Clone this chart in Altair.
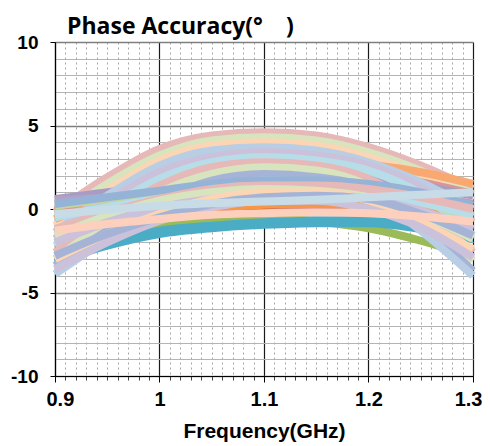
import altair as alt
import pandas as pd

FREQ = [0.9, 0.95, 1.0, 1.05, 1.1, 1.15, 1.2, 1.25, 1.3]

# series drawn in this order (later ones on top)
SERIES = [
    ("s01", "#93CDDD", [-2.0, -1.4, -0.9, -0.55, -0.4, -0.35, -0.45, -0.8, -1.3]),
    ("s02", "#9BBB59", [-2.2, -1.5, -0.9, -0.6, -0.5, -0.75, -1.15, -1.9, -2.9]),
    ("s03", "#4BACC6", [-2.7, -2.0, -1.3, -1.0, -0.8, -0.7, -0.7, -1.0, -1.5]),
    ("s04", "#4BACC6", [-3.2, -2.2, -1.5, -1.15, -0.95, -0.85, -0.85, -1.2, -1.8]),
    ("s05", "#C0504D", [-0.3, -0.2, -0.05, 0.1, 0.15, 0.15, 0.05, -0.2, -0.6]),
    ("s06", "#F79646", [-0.6, -0.35, -0.1, 0.1, 0.25, 0.3, 0.2, -0.05, -0.4]),
    ("s07", "#E6B9B8", [-0.2, 1.9, 3.6, 4.4, 4.6, 4.4, 3.7, 2.6, 1.2]),
    ("s08", "#D7E4BD", [-0.6, 1.5, 3.2, 4.1, 4.3, 4.1, 3.4, 2.3, 0.9]),
    ("s09", "#FCD5B5", [-1.0, 1.1, 2.9, 3.8, 4.0, 3.8, 3.1, 2.0, 0.5]),
    ("s10", "#F9A870", [-0.6, 0.6, 1.7, 2.3, 2.6, 2.6, 2.6, 2.2, 1.5]),
    ("s11", "#D99694", [-0.1, 0.9, 1.8, 2.3, 2.5, 2.5, 2.2, 1.6, 0.9]),
    ("s12", "#A99CC4", [0.6, 1.0, 1.5, 1.9, 2.1, 2.1, 1.9, 1.4, 0.8]),
    ("s13", "#B3A2C7", [0.5, 0.7, 1.0, 1.3, 1.4, 1.4, 1.3, 0.9, 0.3]),
    ("s14", "#B9CDE5", [-1.4, 0.8, 2.6, 3.5, 3.7, 3.5, 2.8, 1.6, 0.0]),
    ("s15", "#CCC1DA", [-1.8, 0.4, 2.2, 3.1, 3.4, 3.2, 2.6, 1.3, -0.8]),
    ("s16", "#B7DEE8", [-2.2, 0.0, 1.8, 2.8, 3.1, 2.9, 2.3, 0.9, -1.6]),
    ("s17", "#E6B9B8", [-2.6, -0.4, 1.4, 2.5, 2.8, 2.6, 1.8, 0.0, -2.6]),
    ("s18", "#D7E4BD", [-3.0, -0.8, 1.0, 2.1, 2.5, 2.3, 1.4, -0.5, -3.1]),
    ("s19", "#A5B4D6", [-3.4, -1.3, 0.5, 1.7, 2.1, 1.9, 1.2, -0.9, -3.7]),
    ("s20", "#B9CDE5", [-3.9, -1.8, 0.0, 1.2, 1.7, 1.6, 0.9, -1.3, -4.0]),
    ("s21", "#C3D69B", [0.2, 0.6, 1.0, 1.3, 1.4, 1.3, 1.0, 0.4, -0.5]),
    ("s22", "#95B3D7", [0.3, 0.7, 1.1, 1.5, 1.7, 1.7, 1.5, 1.0, 0.2]),
    ("s23", "#B7DEE8", [-0.5, 0.1, 0.6, 1.0, 1.1, 1.1, 0.9, 0.4, -0.4]),
    ("s24", "#E6B9B8", [-1.2, -0.2, 0.6, 1.2, 1.4, 1.4, 1.2, 0.7, 0.0]),
    ("s25", "#D7E4BD", [-1.6, -0.4, 0.5, 1.0, 1.2, 1.1, 0.7, -0.3, -1.8]),
    ("s26", "#CCC1DA", [-2.0, -0.8, 0.1, 0.6, 0.9, 0.9, 0.6, -0.1, -1.2]),
    ("s27", "#FCD5B5", [-3.0, -1.5, -0.3, 0.6, 1.0, 1.0, 0.5, -0.8, -2.4]),
    ("s28", "#CCC1DA", [-3.6, -2.0, -0.7, 0.1, 0.5, 0.5, 0.0, -1.1, -2.9]),
    ("s29", "#A5B4D6", [-2.8, -1.5, -0.5, 0.3, 0.7, 0.8, 0.6, -0.3, -1.6]),
    ("s30", "#FCD0BC", [-1.3, -0.9, -0.6, -0.35, -0.25, -0.2, -0.25, -0.45, -0.75]),
    ("s31", "#C8DCE8", [-0.3, -0.05, 0.2, 0.35, 0.45, 0.55, 0.7, 0.85, 1.0]),
]

X_MAJOR = [0.9, 1.0, 1.1, 1.2, 1.3]
X_MINOR = [round(0.9 + 0.01 * i, 2) for i in range(41)]
Y_MAJOR = [-10, -5, 0, 5, 10]
Y_MINOR = list(range(-10, 11))

rows = []
for name, color, vals in SERIES:
    for f, v in zip(FREQ, vals):
        rows.append({"series": name, "freq": f, "val": v})
df = pd.DataFrame(rows)

names = [s[0] for s in SERIES]
colors = [s[1] for s in SERIES]

xscale = alt.Scale(domain=[0.9, 1.3], nice=False, zero=False)
yscale = alt.Scale(domain=[-10, 10], nice=False, zero=False)

grid_layer = alt.Chart(df).mark_line(opacity=0).encode(
    x=alt.X("freq:Q", scale=xscale,
            axis=alt.Axis(values=X_MINOR, orient="bottom", grid=True, gridColor="#a6a6a6",
                          gridDash=[2, 3], gridWidth=1, labels=False, ticks=True,
                          tickSize=4, tickColor="#404040", domain=False, title=None)),
    y=alt.Y("val:Q", scale=yscale,
            axis=alt.Axis(values=Y_MINOR, orient="left", grid=True, gridColor="#b4b4b4",
                          gridWidth=1, labels=False, ticks=False, domain=False, title=None)),
    detail="series:N",
)

lines = alt.Chart(df).mark_line(strokeWidth=8, interpolate="monotone").encode(
    x=alt.X("freq:Q", scale=xscale,
            axis=alt.Axis(values=X_MAJOR, orient="bottom", grid=True, gridColor="#1a1a1a",
                          gridWidth=1.2, labelExpr="datum.value + ''", labelFlush=True,
                          labelFlushOffset=9,
                          labelFont="Liberation Sans", labelFontWeight="bold", labelFontSize=20,
                          labelColor="#000000", tickSize=6, tickColor="#000000",
                          domainColor="#000000", domainWidth=1.2, labelPadding=7,
                          title="Frequency(GHz)", titleFont="Liberation Sans",
                          titleFontWeight="bold", titleFontSize=21, titleColor="#000000",
                          titlePadding=11)),
    y=alt.Y("val:Q", scale=yscale,
            axis=alt.Axis(values=Y_MAJOR, orient="left", grid=True, gridColor="#7f7f7f",
                          gridWidth=1.5, labelExpr="datum.value + ''",
                          labelFont="Liberation Sans", labelFontWeight="bold", labelFontSize=19,
                          labelColor="#000000", tickSize=5, tickColor="#000000",
                          domainColor="#000000", domainWidth=1.2, labelPadding=12,
                          title=None)),
    color=alt.Color("series:N", scale=alt.Scale(domain=names, range=colors), legend=None),
    order=alt.Order("freq:Q"),
)

chart = alt.layer(grid_layer, lines).resolve_axis(
    x="independent", y="independent"
).properties(
    width=418,
    height=334,
    title=alt.TitleParams("Phase Accuracy(°\u3000)", anchor="start", frame="group",
                          font="Open Sans, Noto Sans CJK SC", fontSize=23, fontWeight="bold",
                          color="#000000", dx=12, dy=12, offset=6),
    autosize=alt.AutoSizeParams(type="none"),
    padding={"left": 47, "top": 34, "right": 9, "bottom": 68},
).configure_view(stroke=None)

chart.save("out.html", embed_options={"renderer": "svg", "actions": False})
